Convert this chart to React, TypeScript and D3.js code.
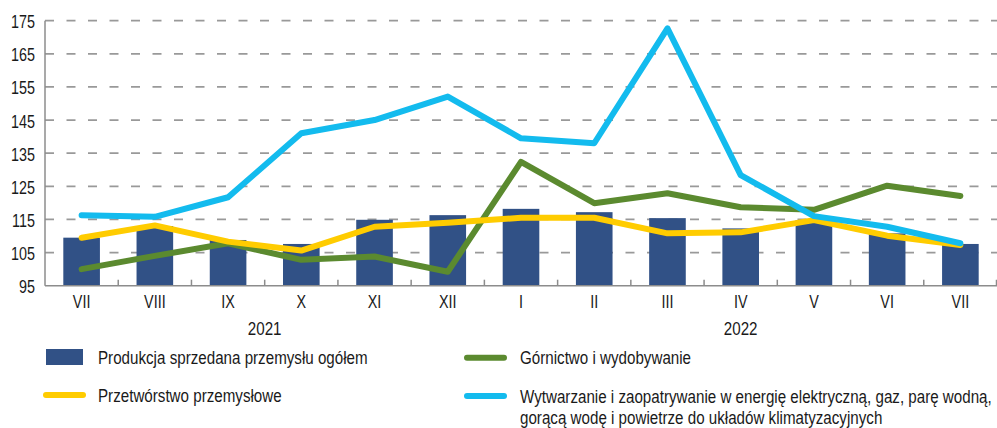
import { useMemo } from 'react';
import * as d3 from 'd3';

const months = ['VII', 'VIII', 'IX', 'X', 'XI', 'XII', 'I', 'II', 'III', 'IV', 'V', 'VI', 'VII'];
const keys = months.map((m, i) => `${i}-${m}`);
const years = [
  { label: '2021', from: 0, to: 5 },
  { label: '2022', from: 6, to: 12 },
];
const yTicks = [95, 105, 115, 125, 135, 145, 155, 165, 175];

const ogolem = [109.5, 113.0, 108.8, 107.6, 114.9, 116.3, 118.2, 117.2, 115.4, 112.3, 114.8, 110.8, 107.6];
const gornictwo = [100.0, 104.0, 107.8, 102.8, 103.8, 99.2, 132.4, 119.9, 122.9, 118.7, 117.9, 125.2, 122.1];
const przetworstwo = [109.5, 113.2, 108.3, 105.6, 112.8, 114.0, 115.5, 115.5, 110.8, 111.1, 114.8, 110.1, 107.3];
const energia = [116.3, 115.8, 121.7, 141.0, 145.0, 152.1, 139.5, 138.0, 172.7, 128.4, 116.0, 112.8, 107.8];

const COLORS = {
  bar: '#315186',
  green: '#5b8a2f',
  yellow: '#ffcc00',
  blue: '#13bbee',
  grid: '#999999',
  axis: '#8c8c8c',
  text: '#1a1a1a',
};

const FONT = '"Liberation Sans", Arial, sans-serif';
const NARROW = 0.82; // no Arial Narrow installed, squeeze regular sans instead

const width = 997,
  height = 428;
const plot = { left: 45, right: 997, top: 20.7, bottom: 285.7 };

// condensed text, y is the baseline
const NText = ({ x, y, anchor = 'start', size = 17, children }: any) => (
  <text
    transform={`translate(${x},${y}) scale(${NARROW},1)`}
    textAnchor={anchor}
    fontSize={size}
    fill={COLORS.text}
  >
    {children}
  </text>
);

export default function App() {
  const xScale = useMemo(
    () => d3.scaleBand().domain(keys).range([plot.left, plot.right]).paddingInner(0.5).paddingOuter(0.25),
    []
  );
  // band without padding, for ticks and year labels
  const xOuter = useMemo(() => d3.scaleBand().domain(keys).range([plot.left, plot.right]), []);
  const yScale = useMemo(() => d3.scaleLinear().domain([95, 175]).range([plot.bottom, plot.top]), []);

  const cx = (i: number) => (xOuter(keys[i]) ?? 0) + xOuter.bandwidth() / 2;
  const line = d3
    .line<number>()
    .x((_, i) => cx(i))
    .y(d => yScale(d));

  const series = [
    { data: gornictwo, color: COLORS.green },
    { data: przetworstwo, color: COLORS.yellow },
    { data: energia, color: COLORS.blue },
  ];

  return (
    <svg
      width={width}
      height={height}
      style={{ position: 'absolute', left: 0, top: 0 }}
      fontFamily={FONT}
    >
      {/* grid */}
      {yTicks.slice(1).map(t => (
        <line
          key={t}
          x1={plot.left}
          x2={plot.right}
          y1={yScale(t)}
          y2={yScale(t)}
          stroke={COLORS.grid}
          strokeWidth={1.8}
          strokeDasharray="9,12.5"
        />
      ))}
      {/* y labels */}
      {yTicks.map(t => (
        <NText key={t} x={35} y={yScale(t) + 7.5} anchor="end" size={17.5}>
          {t}
        </NText>
      ))}

      {/* bars */}
      {ogolem.map((v, i) => (
        <rect
          key={i}
          x={xScale(keys[i])}
          y={yScale(v)}
          width={xScale.bandwidth()}
          height={yScale(95) - yScale(v)}
          fill={COLORS.bar}
        />
      ))}

      {/* axes */}
      <line x1={plot.left} x2={plot.left} y1={plot.top} y2={plot.bottom} stroke={COLORS.axis} strokeWidth={1.5} />
      <line x1={plot.left} x2={plot.right} y1={plot.bottom} y2={plot.bottom} stroke={COLORS.axis} strokeWidth={1.5} />
      {keys.slice(1).map(k => (
        <line
          key={k}
          x1={xOuter(k)}
          x2={xOuter(k)}
          y1={plot.bottom}
          y2={plot.bottom - 6}
          stroke={COLORS.axis}
          strokeWidth={1.5}
        />
      ))}
      <line x1={plot.right - 0.5} x2={plot.right - 0.5} y1={plot.bottom} y2={plot.bottom - 6} stroke={COLORS.axis} strokeWidth={1.5} />

      {/* lines */}
      {series.map((s, i) => (
        <path
          key={i}
          d={line(s.data) ?? ''}
          fill="none"
          stroke={s.color}
          strokeWidth={6}
          strokeLinejoin="round"
          strokeLinecap="round"
        />
      ))}

      {/* x labels */}
      {months.map((m, i) => (
        <NText key={keys[i]} x={cx(i)} y={308.3} anchor="middle" size={17.5}>
          {m}
        </NText>
      ))}
      {years.map(y => (
        <NText
          key={y.label}
          x={((xOuter(keys[y.from]) ?? 0) + (xOuter(keys[y.to]) ?? 0) + xOuter.bandwidth()) / 2}
          y={335}
          anchor="middle"
          size={18.5}
        >
          {y.label}
        </NText>
      ))}

      {/* legend */}
      <rect x={46} y={349} width={37} height={16} fill={COLORS.bar} />
      <NText x={98} y={364} size={18.5}>Produkcja sprzedana przemysłu ogółem</NText>

      <line x1={467} x2={504} y1={357.7} y2={357.7} stroke={COLORS.green} strokeWidth={6} strokeLinecap="round" />
      <NText x={520} y={364} size={18.5}>Górnictwo i wydobywanie</NText>

      <line x1={46} x2={83} y1={395} y2={395} stroke={COLORS.yellow} strokeWidth={6} strokeLinecap="round" />
      <NText x={98} y={402} size={18.5}>Przetwórstwo przemysłowe</NText>

      <line x1={467} x2={504} y1={396} y2={396} stroke={COLORS.blue} strokeWidth={6} strokeLinecap="round" />
      <NText x={520} y={403} size={18.5}>Wytwarzanie i zaopatrywanie w energię elektryczną, gaz, parę wodną,</NText>
      <NText x={520} y={424} size={18.5}>gorącą wodę i powietrze do układów klimatyzacyjnych</NText>
    </svg>
  );
}
